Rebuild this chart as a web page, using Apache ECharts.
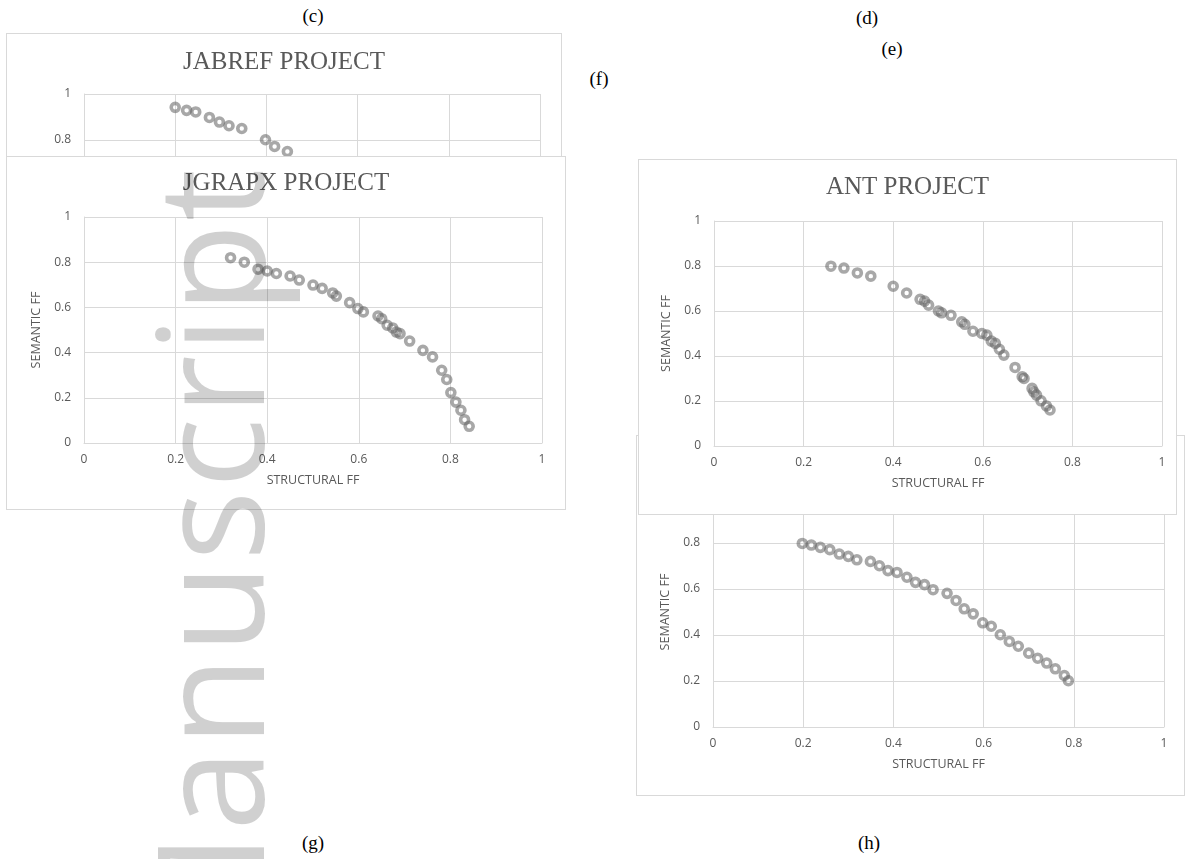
<!DOCTYPE html>
<html>
<head>
<meta charset="utf-8">
<script src="https://cdn.jsdelivr.net/npm/echarts/dist/echarts.min.js"></script>
<style>
html,body{margin:0;padding:0;background:#fff;width:1185px;height:859px;overflow:hidden;}
body{position:relative;}
.panel{position:absolute;box-sizing:border-box;border:1px solid #d9d9d9;background:#fff;}
.chart{position:absolute;left:0;top:0;right:0;bottom:0;}
.lab{position:absolute;font-family:'Liberation Serif','Times New Roman',serif;font-size:19px;color:#000;transform:translate(-50%,-50%);white-space:nowrap;line-height:1;}
#wm{position:absolute;left:133px;top:966px;font-family:'Open Sans',sans-serif;font-size:148px;line-height:148px;letter-spacing:2px;color:rgba(0,0,0,0.185);transform-origin:0 0;transform:rotate(-90deg);white-space:nowrap;pointer-events:none;z-index:10;}
</style>
</head>
<body>
<div class="lab" style="left:313px;top:15px;">(c)</div>
<div class="lab" style="left:867px;top:17px;">(d)</div>
<div class="lab" style="left:892px;top:48px;">(e)</div>
<div class="lab" style="left:599px;top:78px;">(f)</div>
<div class="lab" style="left:313px;top:842px;">(g)</div>
<div class="lab" style="left:869px;top:842px;">(h)</div>

<div class="panel" style="left:6px;top:33px;width:556px;height:357px;z-index:1;"><div class="chart" id="cJabref"></div></div>
<div class="panel" style="left:6px;top:156px;width:560px;height:354px;z-index:2;"><div class="chart" id="cJgrapx"></div></div>
<div class="panel" style="left:636px;top:435px;width:549px;height:361px;z-index:1;"><div class="chart" id="cH"></div></div>
<div class="panel" style="left:638px;top:159px;width:539px;height:356px;z-index:2;"><div class="chart" id="cAnt"></div></div>

<div id="wm">Manuscript</div>

<script>
// ---- data ----
const tickLabels = ['0', '0.2', '0.4', '0.6', '0.8', '1'];
const xAxisName = 'STRUCTURAL FF';
const yAxisName = 'SEMANTIC FF';

const jabrefTitle = 'JABREF PROJECT';
const jabrefX = [0.20, 0.225, 0.245, 0.275, 0.297, 0.318, 0.346, 0.398, 0.418, 0.446];
const jabrefY = [0.942, 0.929, 0.922, 0.898, 0.878, 0.862, 0.850, 0.801, 0.772, 0.750];

const jgrapxTitle = 'JGRAPX PROJECT';
const jgrapxX = [0.32, 0.35, 0.38, 0.40, 0.42, 0.45, 0.47, 0.50, 0.52, 0.543, 0.551, 0.58, 0.598, 0.61, 0.642, 0.65, 0.662, 0.674, 0.682, 0.69, 0.711, 0.74, 0.761, 0.781, 0.792, 0.801, 0.812, 0.823, 0.831, 0.841];
const jgrapxY = [0.82, 0.80, 0.769, 0.761, 0.75, 0.739, 0.721, 0.699, 0.684, 0.664, 0.65, 0.621, 0.595, 0.58, 0.562, 0.55, 0.521, 0.509, 0.491, 0.484, 0.451, 0.41, 0.381, 0.322, 0.281, 0.223, 0.181, 0.145, 0.103, 0.074];

const antTitle = 'ANT PROJECT';
const antX = [0.261, 0.29, 0.32, 0.35, 0.40, 0.43, 0.46, 0.47, 0.479, 0.501, 0.508, 0.529, 0.553, 0.56, 0.578, 0.598, 0.609, 0.619, 0.628, 0.637, 0.647, 0.672, 0.688, 0.692, 0.71, 0.714, 0.72, 0.73, 0.742, 0.75];
const antY = [0.799, 0.791, 0.769, 0.755, 0.71, 0.68, 0.652, 0.644, 0.626, 0.60, 0.592, 0.581, 0.552, 0.541, 0.51, 0.50, 0.493, 0.466, 0.456, 0.43, 0.404, 0.349, 0.308, 0.30, 0.256, 0.241, 0.226, 0.201, 0.178, 0.16];

const hX = [0.198, 0.218, 0.238, 0.259, 0.28, 0.30, 0.319, 0.349, 0.369, 0.388, 0.408, 0.43, 0.449, 0.469, 0.488, 0.519, 0.539, 0.557, 0.577, 0.598, 0.617, 0.637, 0.657, 0.677, 0.70, 0.72, 0.74, 0.759, 0.779, 0.788];
const hY = [0.798, 0.791, 0.781, 0.771, 0.752, 0.742, 0.727, 0.72, 0.701, 0.68, 0.672, 0.651, 0.629, 0.619, 0.597, 0.581, 0.55, 0.514, 0.492, 0.453, 0.438, 0.401, 0.372, 0.351, 0.321, 0.299, 0.278, 0.253, 0.224, 0.201];

// ---- chart builder ----
const GRID = '#d9d9d9';
const TXT = '#595959';

function axis(name, isY, gap) {
  return {
    type: 'value', min: 0, max: 1, interval: 0.2,
    name: name, nameLocation: 'middle', nameGap: gap,
    nameRotate: isY ? 90 : 0,
    nameTextStyle: { color: TXT, fontFamily: 'Open Sans', fontSize: 12.5 },
    axisLine: { show: true, lineStyle: { color: GRID, width: 1 } },
    axisTick: { show: false },
    axisLabel: {
      color: TXT, fontFamily: 'Open Sans', fontSize: 12, margin: isY ? 13 : 11,
      formatter: function (v) { return tickLabels[Math.round(v / 0.2)]; }
    },
    splitLine: { show: true, lineStyle: { color: GRID, width: 1 } }
  };
}

function build(id, title, xs, ys, grid, titleTop) {
  const chart = echarts.init(document.getElementById(id), null, { renderer: 'canvas' });
  const data = xs.map(function (x, i) { return [x, ys[i]]; });
  chart.setOption({
    backgroundColor: '#fff',
    animation: false,
    title: title ? {
      text: title, left: 'center', top: titleTop, padding: 0,
      textStyle: { fontFamily: 'Liberation Serif', fontSize: 25, fontWeight: 'normal', color: TXT }
    } : undefined,
    grid: grid,
    xAxis: axis(xAxisName, false, 31),
    yAxis: axis(yAxisName, true, 38),
    series: [{
      type: 'scatter',
      data: data,
      symbol: 'circle',
      symbolSize: 8,
      itemStyle: { color: 'rgba(255,255,255,0)', borderColor: 'rgba(100,100,100,0.7)', borderWidth: 3.6 }
    }]
  });
}

build('cJabref', jabrefTitle, jabrefX, jabrefY, { left: 77, top: 60, width: 456, height: 230 }, 16);
build('cJgrapx', jgrapxTitle, jgrapxX, jgrapxY, { left: 77, top: 60, width: 458, height: 226 }, 14);
build('cH', null, hX, hY, { left: 76, top: 61, width: 451, height: 230 }, 0);
build('cAnt', antTitle, antX, antY, { left: 75, top: 61, width: 448, height: 225 }, 15);
</script>
</body>
</html>
